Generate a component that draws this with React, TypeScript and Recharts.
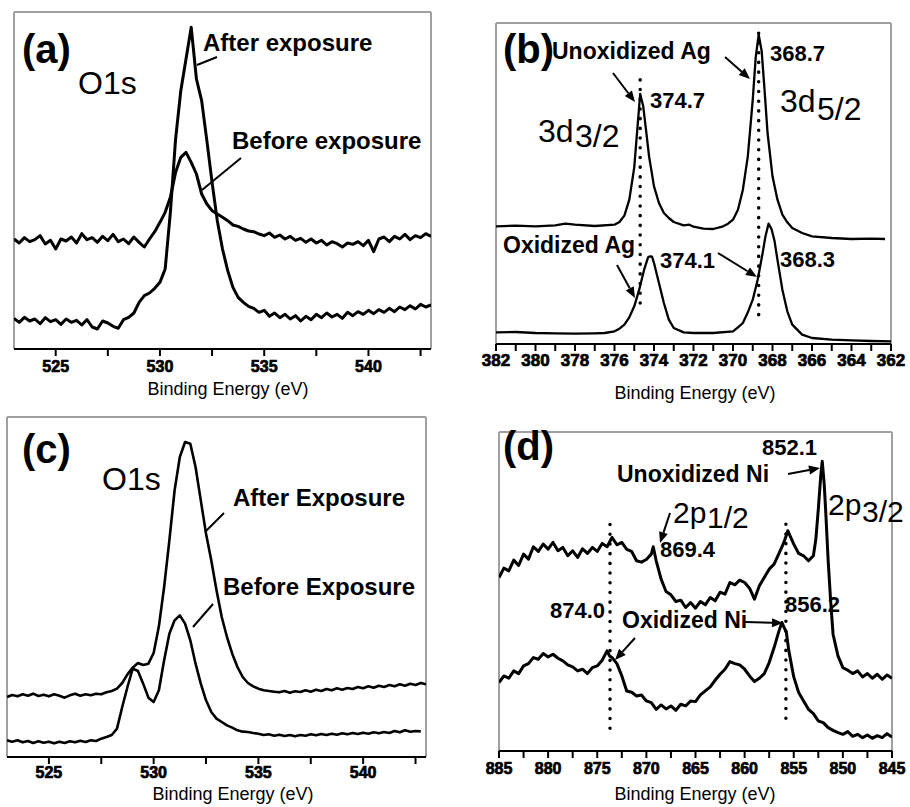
import React from "react";
import { LineChart, Line, XAxis, YAxis, ReferenceLine } from "recharts";

const FONT = '"Liberation Sans", Arial, Helvetica, sans-serif';

// O1s energy grid shared by panels (a) and (c)
const o1sEnergy = [
  523, 523.25, 523.5, 523.75, 524, 524.25, 524.5, 524.75, 525, 525.25, 525.5, 525.75,
  526, 526.25, 526.5, 526.75, 527, 527.25, 527.5, 527.75, 528, 528.25, 528.5, 528.75,
  529, 529.25, 529.5, 529.75, 530, 530.25, 530.5, 530.75, 531, 531.25, 531.5, 531.75,
  532, 532.25, 532.5, 532.75, 533, 533.25, 533.5, 533.75, 534, 534.25, 534.5, 534.75,
  535, 535.25, 535.5, 535.75, 536, 536.25, 536.5, 536.75, 537, 537.25, 537.5, 537.75,
  538, 538.25, 538.5, 538.75, 539, 539.25, 539.5, 539.75, 540, 540.25, 540.5, 540.75,
  541, 541.25, 541.5, 541.75, 542, 542.25, 542.5, 542.75, 543,
];

// (a) O1s
const o1sBeforeA = [
  330, 318, 334, 322, 328, 340, 315, 326, 300, 330, 324, 336, 318, 346, 328, 334, 320, 338,
  325, 344, 322, 330, 316, 336, 320, 306, 330, 352, 380, 410, 455, 530, 575, 590, 560, 525,
  465, 435, 415, 405, 395, 385, 372, 368, 360, 354, 352, 345, 340, 348, 335, 342, 330, 338,
  326, 332, 320, 330, 318, 326, 312, 322, 316, 306, 318, 314, 322, 310, 326, 292, 330, 336,
  322, 338, 330, 344, 328, 340, 334, 346, 338,
];
const o1sAfterA = [
  92, 80, 95, 84, 90, 76, 94, 82, 88, 74, 90, 80, 86, 72, 88, 66, 60, 84, 78, 68, 62, 88,
  95, 108, 140, 160, 168, 182, 200, 240, 410, 630, 775, 870, 965, 810, 745, 625, 500, 385,
  300, 235, 185, 155, 140, 128, 122, 110, 116, 98, 108, 94, 104, 90, 100, 84, 98, 88, 104,
  94, 108, 96, 104, 92, 110, 100, 112, 104, 116, 106, 118, 110, 122, 112, 126, 118, 130,
  120, 134, 126, 132,
];

// (c) O1s
const o1sAfterC = [
  180, 186, 182, 188, 184, 190, 183, 187, 182, 188, 184, 178, 185, 190, 184, 188, 185, 190,
  188, 194, 198, 205, 222, 248, 268, 282, 276, 280, 312, 392, 510, 650, 800, 900, 945, 940,
  870, 770, 670, 590, 500, 420, 360, 310, 270, 240, 222, 212, 205, 200, 198, 196, 194, 198,
  193, 197, 195, 200, 196, 202, 198, 204, 200, 206, 202, 207, 204, 210, 206, 212, 208, 214,
  210, 216, 212, 218, 214, 220, 216, 222, 218,
];
const o1sBeforeC = [
  50, 46, 50, 44, 48, 42, 47, 43, 46, 41, 46, 42, 47, 44, 49, 45, 50, 48, 55, 60, 66, 85,
  150, 210, 265, 258, 220, 178, 165, 200, 290, 370, 410, 425, 400, 350, 280, 220, 170, 135,
  115, 105, 95, 88, 80, 76, 75, 72, 70, 66, 68, 64, 67, 63, 66, 62, 66, 64, 68, 65, 69, 66,
  70, 67, 71, 68, 72, 69, 73, 70, 74, 71, 75, 72, 78, 74, 80, 76, 78, 77, null,
];

// (b) Ag 3d
const agUnoxEnergy = [
  382, 381, 380, 379, 378.5, 378, 377, 376, 375.75, 375.5, 375.25, 375, 374.85, 374.7,
  374.55, 374.4, 374.25, 374, 373.75, 373.5, 373.25, 373, 372.5, 372.2, 372, 371.5, 371,
  370.5, 370.25, 370, 369.75, 369.5, 369.25, 369, 368.85, 368.7, 368.55, 368.4, 368.25,
  368, 367.75, 367.5, 367.25, 367, 366.5, 366, 365, 364, 363, 362.3,
];
const agUnoxCounts = [
  353, 355, 353, 356, 361, 358, 354, 358, 366, 385, 433, 530, 640, 750, 715, 640, 563, 473,
  423, 393, 378, 366, 356, 358, 352, 346, 345, 353, 361, 373, 403, 463, 563, 733, 860, 928,
  880, 760, 633, 503, 433, 388, 365, 348, 333, 323, 318, 315, 316, 315,
];
const agOxEnergy = [
  382, 381, 380, 379, 378, 377, 376.5, 376, 375.75, 375.5, 375.25, 375, 374.75, 374.5,
  374.3, 374.2, 374.1, 374, 373.75, 373.5, 373.25, 373, 372.5, 372, 371, 370, 369.75,
  369.5, 369.25, 369, 368.75, 368.5, 368.35, 368.2, 368.05, 367.9, 367.75, 367.5, 367.25,
  367, 366.5, 366, 365, 364, 363, 362,
];
const agOxCounts = [
  35, 36, 33, 32, 31, 32, 33, 38, 46, 58, 80, 113, 163, 223, 260, 263, 262, 243, 183, 123,
  73, 48, 35, 33, 33, 38, 50, 63, 95, 133, 193, 273, 325, 361, 345, 310, 253, 163, 98, 58,
  28, 18, 13, 11, 9, 8,
];

// (d) Ni 2p
const niUnoxEnergy = [
  885, 884.5, 884, 883.5, 883, 882.5, 882, 881.5, 881, 880.5, 880, 879.5, 879, 878.5, 878,
  877.5, 877, 876.5, 876, 875.5, 875, 874.5, 874, 873.5, 873, 872.5, 872, 871.5, 871, 870.5,
  870, 869.5, 869.3, 869, 868.5, 868, 867.5, 867, 866.5, 866, 865.5, 865, 864.5, 864, 863.5,
  863, 862.5, 862, 861.5, 861, 860.5, 860, 859.5, 859, 858.5, 858, 857.5, 857, 856.5, 856,
  855.6, 855, 854.5, 854, 853.5, 853, 852.75, 852.5, 852.25, 852.1, 851.9, 851.75, 851.5,
  851.25, 851, 850.5, 850, 849.5, 849, 848.5, 848, 847.5, 847, 846.5, 846, 845.5, 845,
];
const niUnoxCounts = [
  520, 548, 540, 572, 556, 590, 575, 612, 598, 620, 605, 625, 600, 610, 585, 600, 580, 606,
  592, 610, 598, 622, 612, 640, 618, 625, 604, 598, 570, 566, 574, 590, 612, 570, 515, 478,
  468, 448, 452, 430, 445, 428, 448, 438, 460, 450, 476, 470, 505, 498, 512, 505, 488, 455,
  495, 520, 545, 560, 592, 625, 660, 620, 592, 585, 570, 585, 635, 725, 825, 868, 800, 720,
  572, 452, 350, 285, 250, 242, 232, 240, 222, 232, 218, 230, 215, 228, 218,
];
const niOxEnergy = [
  885, 884.5, 884, 883.5, 883, 882.5, 882, 881.5, 881, 880.5, 880, 879.5, 879, 878.5, 878,
  877.5, 877, 876.5, 876, 875.5, 875, 874.5, 874, 873.75, 873.5, 873, 872.5, 872, 871.5,
  871, 870.5, 870, 869.5, 869, 868.5, 868, 867.5, 867, 866.5, 866, 865.5, 865, 864.5, 864,
  863.5, 863, 862.5, 862, 861.5, 861, 860.5, 860, 859.5, 859, 858.5, 858, 857.5, 857,
  856.5, 856.2, 855.75, 855.5, 855, 854.5, 854, 853.5, 853, 852.5, 852, 851.5, 851, 850.5,
  850, 849.5, 849, 848.5, 848, 847.5, 847, 846.5, 846, 845.5, 845,
];
const niOxCounts = [
  205, 225, 218, 240, 232, 255, 262, 280, 275, 292, 282, 290, 278, 270, 258, 252, 240, 245,
  232, 250, 255, 272, 300, 285, 280, 262, 225, 180, 176, 165, 168, 150, 145, 125, 138, 126,
  135, 122, 140, 135, 150, 148, 168, 180, 192, 212, 230, 245, 268, 262, 258, 245, 225, 208,
  218, 232, 265, 310, 360, 385, 355, 300, 222, 175, 150, 125, 112, 90, 85, 70, 62, 55, 50,
  58, 44, 50, 40, 48, 38, 46, 40, 52, 42,
];

// tick positions (major + minor)
const o1sTicks = [525, 527.5, 530, 532.5, 535, 537.5, 540, 542.5];
const agTicks = [362, 363, 364, 365, 366, 367, 368, 369, 370, 371, 372, 373, 374, 375, 376, 377, 378, 379, 380, 381, 382];
const niTicks = [845, 847.5, 850, 852.5, 855, 857.5, 860, 862.5, 865, 867.5, 870, 872.5, 875, 877.5, 880, 882.5, 885];

const rows = (xs: number[], ys: (number | null)[]) => xs.map((e, i) => ({ e, v: ys[i] }));

const majorOnly = (step: number) => (v: number) =>
  Math.abs(v / step - Math.round(v / step)) < 1e-6 ? String(v) : "";

type Series = { data: { e: number; v: number | null }[]; width: number };
type Dots = { x: number; y1: number; y2: number };

function Panel(p: {
  left: number; top: number; w: number; h: number;
  margin: { top: number; left: number; right: number; bottom: number };
  axisHeight: number; xMin: number; xMax: number; reversed?: boolean;
  ticks: number[]; major: number; fs: number; gap: number; yMax: number; series: Series[]; dots?: Dots[];
}) {
  return (
    <div style={{ position: "absolute", left: p.left, top: p.top }}>
      <LineChart width={p.w} height={p.h} margin={p.margin}>
        <XAxis
          dataKey="e" type="number" domain={[p.xMin, p.xMax]} allowDataOverflow reversed={p.reversed}
          ticks={p.ticks} interval={0} height={p.axisHeight} tickSize={7} tickMargin={p.gap}
          tickFormatter={majorOnly(p.major)}
          tick={{ fill: "#000", stroke: "#000", strokeWidth: 0.7, fontSize: p.fs, fontWeight: 700, fontFamily: FONT }}
          tickLine={{ stroke: "#000", strokeWidth: 2 }}
          axisLine={{ stroke: "#000", strokeWidth: 2 }}
        />
        <YAxis hide type="number" domain={[0, p.yMax]} allowDataOverflow />
        <ReferenceLine y={p.yMax} stroke="#a0a0a0" strokeWidth={2} />
        <ReferenceLine x={p.xMin} stroke="#a0a0a0" strokeWidth={2} />
        <ReferenceLine x={p.xMax} stroke="#a0a0a0" strokeWidth={2} />
        {(p.dots || []).map((d, i) => (
          <ReferenceLine
            key={i}
            segment={[{ x: d.x, y: d.y1 }, { x: d.x, y: d.y2 }]}
            stroke="#000" strokeWidth={3.5} strokeDasharray="0.1 9.6" strokeLinecap="round"
          />
        ))}
        {p.series.map((s, i) => (
          <Line
            key={i} data={s.data} dataKey="v" type="linear" dot={false} stroke="#000"
            strokeWidth={s.width} strokeLinejoin="round" isAnimationActive={false}
          />
        ))}
      </LineChart>
    </div>
  );
}

function T(p: { x: number; y: number; s: number; b?: boolean; c: string; a?: string }) {
  return (
    <text x={p.x} y={p.y} fontSize={p.s} fontWeight={p.b ? "bold" : "normal"} fontFamily={FONT} fill="#000" textAnchor={p.a || "start"}>
      {p.c}
    </text>
  );
}

function Arrow(p: { x1: number; y1: number; x2: number; y2: number; head?: boolean }) {
  const a = Math.atan2(p.y2 - p.y1, p.x2 - p.x1);
  const L = 11, W = 4.5;
  const bx = p.x2 - L * Math.cos(a), by = p.y2 - L * Math.sin(a);
  const pts = `${p.x2},${p.y2} ${bx - W * Math.sin(a)},${by + W * Math.cos(a)} ${bx + W * Math.sin(a)},${by - W * Math.cos(a)}`;
  return (
    <g>
      <line x1={p.x1} y1={p.y1} x2={p.head ? bx : p.x2} y2={p.head ? by : p.y2} stroke="#000" strokeWidth={2} />
      {p.head && <polygon points={pts} fill="#000" />}
    </g>
  );
}

export default function App() {
  return (
    <div style={{ position: "absolute", left: 0, top: 0, width: 910, height: 807, background: "#fff", overflow: "hidden" }}>
      <Panel
        left={0} top={0} w={455} h={400} margin={{ top: 12, left: 14, right: 24, bottom: 0 }} axisHeight={51}
        xMin={523} xMax={543} ticks={o1sTicks} major={5} fs={16} gap={5} yMax={1011}
        series={[{ data: rows(o1sEnergy, o1sBeforeA), width: 3 }, { data: rows(o1sEnergy, o1sAfterA), width: 3 }]}
      />
      <Panel
        left={455} top={0} w={455} h={400} margin={{ top: 23, left: 41, right: 19, bottom: 0 }} axisHeight={56}
        xMin={362} xMax={382} reversed ticks={agTicks} major={2} fs={17} gap={3} yMax={963}
        series={[{ data: rows(agUnoxEnergy, agUnoxCounts), width: 2.3 }, { data: rows(agOxEnergy, agOxCounts), width: 2.3 }]}
        dots={[{ x: 374.7, y1: 123, y2: 798 }, { x: 368.7, y1: 88, y2: 958 }]}
      />
      <Panel
        left={0} top={400} w={455} h={407} margin={{ top: 17, left: 7, right: 29, bottom: 0 }} axisHeight={50}
        xMin={523} xMax={543} ticks={o1sTicks} major={5} fs={16} gap={3} yMax={1020}
        series={[{ data: rows(o1sEnergy, o1sAfterC), width: 2.6 }, { data: rows(o1sEnergy, o1sBeforeC), width: 2.6 }]}
      />
      <Panel
        left={455} top={400} w={455} h={407} margin={{ top: 32, left: 44, right: 18, bottom: 0 }} axisHeight={56}
        xMin={845} xMax={885} reversed ticks={niTicks} major={5} fs={16} gap={5} yMax={956}
        series={[{ data: rows(niUnoxEnergy, niUnoxCounts), width: 3 }, { data: rows(niOxEnergy, niOxCounts), width: 3 }]}
        dots={[{ x: 873.7, y1: 68, y2: 703 }, { x: 855.8, y1: 98, y2: 683 }]}
      />
      <svg width={910} height={807} style={{ position: "absolute", left: 0, top: 0, pointerEvents: "none" }}>
        {/* axis titles */}
        <T x={228} y={395} s={18} c="Binding Energy (eV)" a="middle" />
        <T x={695} y={399} s={18} c="Binding Energy (eV)" a="middle" />
        <T x={233} y={800} s={18} c="Binding Energy (eV)" a="middle" />
        <T x={695} y={800} s={18} c="Binding Energy (eV)" a="middle" />

        {/* (a) */}
        <T x={22} y={63} s={40} b c="(a)" />
        <T x={78} y={94} s={32} c="O1s" />
        <T x={203} y={51} s={24} b c="After exposure" />
        <T x={232} y={149} s={24} b c="Before exposure" />
        <Arrow x1={217} y1={57} x2={197} y2={65} />
        <Arrow x1={241} y1={158} x2={202} y2={190} />

        {/* (b) */}
        <T x={503} y={63} s={40} b c="(b)" />
        <T x={552} y={59} s={23} b c="Unoxidized Ag" />
        <T x={770} y={61} s={22} b c="368.7" />
        <T x={650} y={108} s={22} b c="374.7" />
        <T x={538} y={142} s={32} c="3d" />
        <T x={575} y={147} s={32} c="3/2" />
        <T x={780} y={112} s={32} c="3d" />
        <T x={817} y={120} s={32} c="5/2" />
        <T x={503} y={253} s={23} b c="Oxidized Ag" />
        <T x={660} y={268} s={22} b c="374.1" />
        <T x={780} y={267} s={22} b c="368.3" />
        <Arrow x1={613} y1={73} x2={635} y2={102} head />
        <Arrow x1={725} y1={57} x2={750} y2={79} head />
        <Arrow x1={617} y1={265} x2={635} y2={298} head />
        <Arrow x1={718} y1={253} x2={757} y2={277} head />

        {/* (c) */}
        <T x={22} y={463} s={40} b c="(c)" />
        <T x={102} y={490} s={32} c="O1s" />
        <T x={233} y={506} s={24} b c="After Exposure" />
        <T x={223} y={595} s={24} b c="Before Exposure" />
        <Arrow x1={224} y1={513} x2={205} y2={532} />
        <Arrow x1={213} y1={604} x2={193} y2={627} />

        {/* (d) */}
        <T x={503} y={460} s={40} b c="(d)" />
        <T x={762} y={455} s={22} b c="852.1" />
        <T x={617} y={482} s={23} b c="Unoxidized Ni" />
        <Arrow x1={788} y1={474} x2={820} y2={468} head />
        <T x={673} y={523} s={30} c="2p" />
        <T x={707} y={528} s={30} c="1/2" />
        <T x={828} y={515} s={30} c="2p" />
        <T x={862} y={522} s={30} c="3/2" />
        <Arrow x1={670} y1={513} x2={660} y2={543} head />
        <T x={660} y={557} s={22} b c="869.4" />
        <T x={550} y={618} s={22} b c="874.0" />
        <T x={622} y={628} s={23} b c="Oxidized Ni" />
        <Arrow x1={745} y1={622} x2={783} y2={623} head />
        <T x={785} y={612} s={22} b c="856.2" />
        <Arrow x1={635} y1={638} x2={615} y2={660} head />
      </svg>
    </div>
  );
}
